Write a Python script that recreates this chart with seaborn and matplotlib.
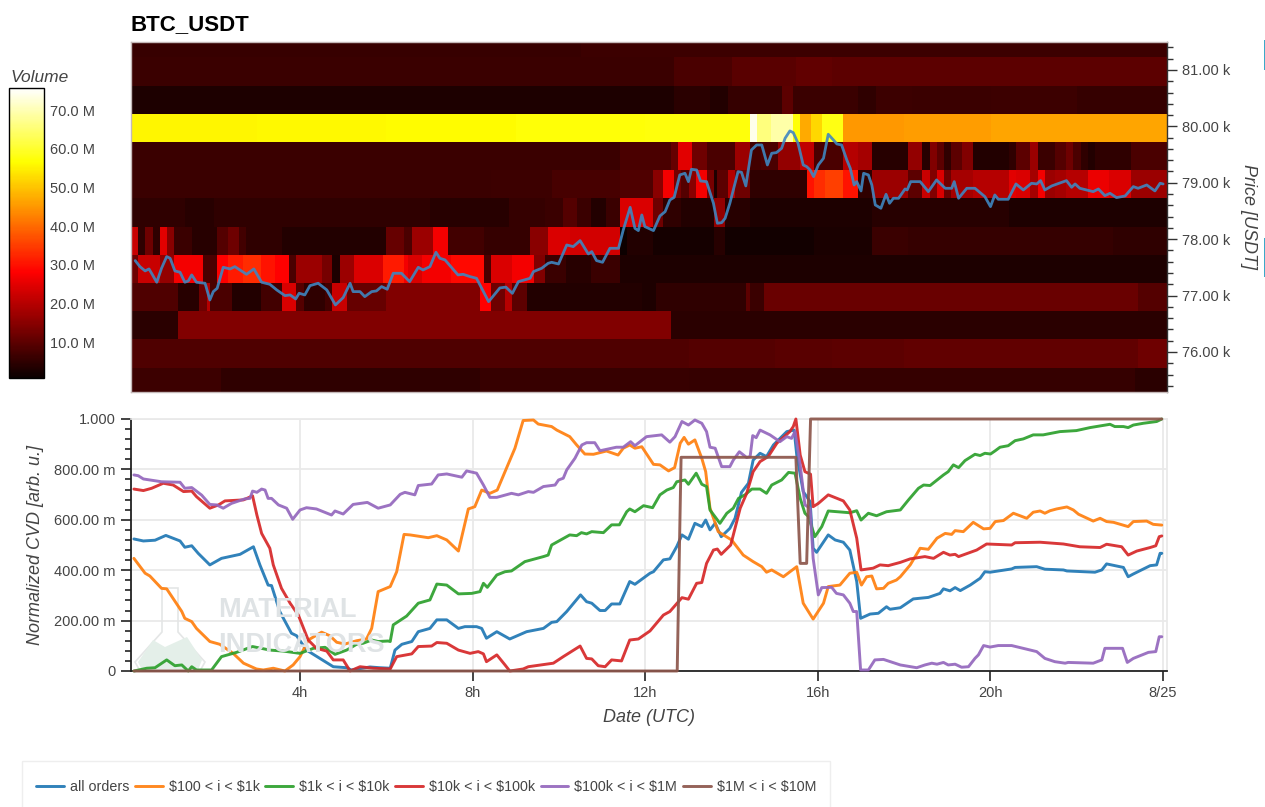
import numpy as np
import matplotlib
matplotlib.use("Agg")
import matplotlib.pyplot as plt
from matplotlib.patches import Rectangle, Polygon
import seaborn as sns

W, H = 1265, 807

# --- cumulative volume delta, hours and normalized value per tier ---
hrs_all = [.15,.37,.64,.89,1.22,1.33,1.49,1.64,1.91,2.18,2.61,2.92,3.07,3.26,3.34,3.53,3.80,3.92,4.15,4.46,4.77,5.08,5.19,5.62,5.85,6.09,6.20,6.36,6.59,6.74,7.01,7.17,7.40,7.67,7.82,8.09,8.21,8.32,8.56,8.86,9.25,9.64,9.83,9.95,10.18,10.50,10.64,10.76,10.95,11.07,11.22,11.41,11.64,11.76,12.11,12.19,12.42,12.57,12.73,12.85,13.0,13.15,13.31,13.40,13.50,13.62,13.76,13.96,14.08,14.23,14.39,14.50,14.66,14.81,14.97,15.28,15.45,15.51,15.66,15.82,15.89,15.97,16.24,16.40,16.59,16.74,16.90,16.99,17.21,17.40,17.59,17.67,17.91,18.21,18.56,18.83,18.91,19.06,19.18,19.30,19.53,19.76,19.87,19.99,20.49,20.57,21.07,21.26,21.69,21.77,22.42,22.58,22.69,23.08,23.19,23.31,23.70,23.85,23.93,23.97]
cvd_all = [.524,.516,.519,.538,.516,.491,.497,.467,.421,.447,.463,.493,.421,.341,.339,.236,.150,.140,.083,.050,.017,.013,.004,.016,.013,.011,.083,.106,.117,.156,.169,.203,.203,.169,.176,.176,.169,.130,.156,.127,.156,.169,.193,.196,.236,.302,.275,.269,.240,.240,.266,.266,.355,.344,.388,.394,.441,.445,.494,.540,.523,.586,.573,.599,.560,.586,.533,.566,.606,.709,.745,.837,.864,.851,.897,.950,.956,.857,.712,.672,.487,.471,.540,.520,.511,.480,.355,.209,.226,.229,.255,.245,.251,.286,.292,.308,.326,.318,.331,.319,.341,.368,.394,.392,.405,.411,.414,.404,.401,.397,.392,.401,.425,.411,.374,.385,.418,.421,.467,.467]

hrs_100 = [.15,.41,.52,.79,.91,1.26,1.33,1.49,1.60,1.91,2.14,2.45,2.69,2.99,3.15,3.38,3.65,3.84,4.0,4.19,4.50,4.69,4.85,5.04,5.31,5.54,5.66,5.81,6.09,6.24,6.41,6.55,6.97,7.17,7.40,7.67,7.90,8.05,8.21,8.40,8.57,8.75,8.98,9.17,9.41,9.52,9.83,9.95,10.25,10.41,10.60,10.80,11.10,11.37,11.49,11.64,11.76,11.92,12.19,12.34,12.54,12.68,12.81,12.90,13.0,13.15,13.31,13.40,13.50,13.69,14.0,14.27,14.50,14.70,14.81,14.93,15.20,15.51,15.66,15.89,16.13,16.24,16.51,16.74,16.90,17.01,17.13,17.25,17.36,17.52,17.63,17.82,17.91,18.14,18.37,18.56,18.76,18.95,19.10,19.18,19.37,19.60,19.84,19.99,20.11,20.30,20.53,20.84,20.99,21.15,21.26,21.38,21.53,21.77,21.92,22.04,22.38,22.54,22.69,22.85,23.19,23.31,23.62,23.77,23.97]
cvd_100 = [.447,.388,.377,.328,.326,.236,.209,.196,.169,.117,.106,.070,.031,.008,.004,.011,.0,.024,.057,.123,.154,.140,.114,.107,.120,.127,.169,.315,.335,.394,.542,.540,.529,.537,.520,.476,.643,.652,.718,.705,.718,.791,.884,.994,.996,.980,.970,.956,.930,.897,.861,.860,.873,.857,.884,.897,.884,.890,.820,.818,.794,.807,.904,.927,.900,.917,.844,.791,.646,.553,.520,.460,.434,.414,.392,.401,.374,.414,.269,.206,.269,.335,.341,.388,.392,.341,.374,.377,.326,.328,.348,.361,.374,.421,.487,.483,.527,.546,.542,.557,.553,.590,.564,.566,.593,.597,.626,.606,.630,.635,.626,.636,.643,.651,.639,.622,.595,.606,.593,.590,.573,.593,.595,.582,.579]

hrs_1k = [.15,.45,.64,.91,1.10,1.26,1.41,1.49,1.60,1.95,2.18,2.53,2.90,3.30,3.61,4.0,4.31,4.58,4.81,5.08,5.31,5.46,5.66,5.81,6.04,6.09,6.16,6.47,6.74,7.01,7.17,7.40,7.67,7.98,8.17,8.25,8.34,8.56,8.75,8.90,9.21,9.64,9.75,9.83,10.25,10.41,10.52,10.64,10.76,11.03,11.22,11.40,11.57,11.64,11.76,11.96,12.17,12.34,12.50,12.65,12.73,12.92,13.0,13.18,13.31,13.42,13.50,13.73,13.89,14.04,14.16,14.31,14.47,14.66,14.81,14.93,15.16,15.32,15.47,15.59,15.70,15.78,15.93,16.09,16.24,16.74,16.90,17.0,17.17,17.36,17.59,17.91,18.10,18.33,18.45,18.60,18.91,19.02,19.14,19.26,19.41,19.64,19.76,19.87,20.0,20.11,20.22,20.41,20.57,20.76,20.99,21.22,21.61,21.99,22.31,22.77,22.88,23.08,23.19,23.31,23.54,23.85,23.97]
cvd_1k = [.0,.011,.013,.044,.021,.024,.0,.017,.004,.004,.057,.074,.097,.083,.079,.070,.090,.094,.066,.083,.106,.110,.123,.117,.119,.117,.183,.218,.269,.282,.345,.341,.306,.308,.315,.348,.332,.381,.394,.397,.434,.454,.460,.500,.540,.537,.549,.544,.553,.549,.580,.580,.632,.643,.632,.656,.648,.699,.718,.728,.751,.758,.741,.785,.741,.732,.639,.586,.626,.646,.685,.699,.722,.722,.705,.738,.758,.788,.785,.685,.626,.613,.533,.573,.635,.628,.636,.599,.626,.616,.632,.639,.679,.725,.738,.736,.778,.791,.818,.807,.835,.860,.855,.864,.861,.874,.888,.894,.914,.921,.937,.937,.950,.954,.966,.979,.970,.970,.966,.976,.983,.990,1.0]

hrs_10k = [.15,.37,.56,.83,1.06,1.30,1.49,1.60,1.91,2.11,2.26,2.69,2.90,3.0,3.11,3.30,3.38,3.57,3.77,3.96,4.19,4.38,4.62,4.77,5.0,5.16,5.39,5.70,6.09,6.24,6.59,6.74,7.05,7.17,7.40,7.67,7.94,8.13,8.25,8.32,8.56,8.75,8.86,9.17,9.29,9.87,10.10,10.49,10.64,10.76,10.91,11.07,11.22,11.45,11.64,11.84,12.11,12.42,12.57,12.85,13.0,13.19,13.31,13.42,13.58,13.67,13.76,13.98,14.20,14.35,14.50,14.66,14.85,15.05,15.35,15.43,15.49,15.59,15.70,15.83,15.89,16.01,16.24,16.59,16.74,16.90,17.0,17.28,17.44,17.63,17.91,18.14,18.48,18.68,18.91,19.06,19.18,19.26,19.68,19.91,20.49,20.57,21.15,21.69,22.07,22.54,22.69,23.04,23.19,23.39,23.70,23.83,23.91,23.97]
cvd_10k = [.722,.716,.725,.745,.738,.712,.714,.692,.646,.659,.675,.679,.695,.619,.546,.487,.421,.328,.269,.222,.123,.090,.079,.044,.044,.0,.017,.011,.008,.057,.068,.097,.099,.113,.110,.083,.070,.077,.068,.037,.064,.024,.0,.008,.017,.031,.057,.099,.050,.048,.021,.017,.044,.040,.123,.127,.159,.222,.236,.291,.285,.348,.351,.427,.480,.484,.463,.500,.646,.705,.791,.831,.851,.904,.950,.970,1.0,.857,.791,.781,.652,.665,.699,.675,.639,.527,.401,.408,.421,.418,.431,.445,.454,.447,.471,.460,.463,.454,.480,.504,.500,.509,.511,.504,.493,.490,.503,.493,.460,.476,.490,.497,.533,.536]

hrs_100k = [.15,.25,.37,.79,1.22,1.33,1.49,1.72,1.91,2.07,2.22,2.41,2.72,2.84,2.90,3.0,3.11,3.19,3.26,3.34,3.50,3.69,3.83,4.0,4.15,4.38,4.73,4.81,5.0,5.23,5.56,5.81,6.09,6.32,6.43,6.66,6.74,7.05,7.20,7.40,7.75,7.86,8.09,8.25,8.40,8.56,8.90,9.06,9.29,9.41,9.64,9.91,9.99,10.10,10.18,10.37,10.53,10.64,10.83,10.95,11.33,11.49,11.66,11.76,11.88,12.03,12.38,12.57,12.69,12.85,13.0,13.15,13.31,13.42,13.50,13.62,13.77,13.96,14.04,14.18,14.35,14.43,14.49,14.57,14.66,14.89,15.12,15.28,15.39,15.47,15.59,15.70,15.82,15.89,16.01,16.09,16.32,16.43,16.59,16.74,16.82,16.90,16.99,17.17,17.32,17.52,17.91,18.29,18.48,18.64,18.76,18.91,19.02,19.18,19.33,19.49,19.64,19.72,19.84,19.99,20.18,20.49,20.76,21.07,21.26,21.49,21.73,21.80,22.38,22.58,22.65,23.06,23.17,23.31,23.66,23.83,23.91,23.97]
cvd_100k = [.778,.775,.762,.751,.749,.725,.728,.698,.661,.659,.646,.665,.683,.685,.714,.709,.722,.718,.685,.685,.659,.646,.602,.639,.648,.643,.619,.635,.623,.661,.669,.646,.659,.701,.709,.699,.736,.742,.778,.782,.769,.794,.785,.738,.689,.689,.705,.699,.712,.709,.732,.738,.758,.765,.798,.844,.897,.906,.906,.874,.888,.888,.910,.894,.910,.930,.937,.908,.930,.990,.976,.996,.983,.950,.888,.884,.811,.811,.837,.870,.847,.851,.934,.926,.956,.937,.910,.930,.923,.950,.818,.659,.646,.447,.302,.331,.332,.308,.302,.269,.236,.236,.004,.004,.044,.046,.024,.013,.024,.031,.027,.034,.024,.027,.015,.017,.050,.064,.101,.095,.101,.101,.090,.077,.050,.037,.031,.034,.031,.044,.090,.090,.034,.050,.074,.077,.136,.136]

hrs_1m = [.15,12.74,12.83,15.49,15.59,15.74,15.83,23.97]
cvd_1m = [.0,.0,.848,.848,.427,.427,1.0,1.0]

tier_labels = ["all orders", r"\$100 < i < \$1k", r"\$1k < i < \$10k", r"\$10k < i < \$100k",
               r"\$100k < i < \$1M", r"\$1M < i < \$10M"]

# --- mid price ---
hrs_price = [.18,.29,.41,.50,.56,.68,.79,.91,.99,1.10,1.22,1.33,1.41,1.49,1.60,1.80,1.91,1.99,2.08,2.22,2.38,2.49,2.76,2.93,3.11,3.30,3.46,3.65,3.77,3.90,3.98,4.11,4.23,4.42,4.62,4.82,5.0,5.16,5.23,5.39,5.50,5.66,5.77,5.89,6.02,6.16,6.35,6.54,6.74,6.85,7.01,7.15,7.24,7.36,7.66,7.78,7.94,8.09,8.37,8.63,8.77,8.92,9.06,9.33,9.41,9.60,9.75,9.83,9.99,10.18,10.33,10.49,10.68,10.76,10.87,11.01,11.18,11.38,11.49,11.65,11.76,11.84,11.92,11.99,12.19,12.34,12.46,12.57,12.67,12.80,12.92,13.0,13.07,13.19,13.28,13.42,13.58,13.67,13.77,13.85,13.96,14.15,14.23,14.33,14.46,14.58,14.70,14.83,14.93,15.04,15.16,15.24,15.35,15.43,15.54,15.66,15.74,15.82,15.90,16.01,16.13,16.24,16.36,16.44,16.55,16.67,16.75,16.84,16.90,17.0,17.06,17.17,17.25,17.33,17.46,17.58,17.66,17.75,17.87,18.02,18.07,18.15,18.37,18.56,18.75,18.95,19.10,19.16,19.26,19.45,19.64,19.87,20.0,20.10,20.18,20.41,20.59,20.76,20.95,21.07,21.16,21.26,21.42,21.76,21.88,21.96,22.07,22.38,22.50,22.65,22.77,22.92,23.12,23.31,23.42,23.62,23.81,23.93,24.0]
price_usdt = [77620,77513,77437,77472,77395,77236,77484,77691,77661,77437,77413,77236,77259,77366,77236,77218,76922,77070,77129,77501,77472,77513,77377,77472,77236,77200,77100,76999,77011,76940,77041,77011,77176,77218,77100,76834,76964,77218,77070,77070,76981,77070,77082,77159,77112,77395,77395,77247,77501,77454,77513,77767,77661,77632,77366,77377,77336,77306,76892,77135,77150,77040,77247,77306,77425,77484,77572,77590,77560,77897,77868,77974,77738,77779,77620,77590,77838,77838,78163,78565,78193,78152,78429,78223,78152,78412,78488,78695,78742,79139,79168,79020,79239,79227,79032,79020,78636,78282,78293,78370,78636,79198,79186,78944,79582,79670,79670,79316,79523,79535,79611,79789,79919,79889,79700,79316,79286,79227,79109,79316,79434,79860,79759,79688,79670,79405,79257,78961,79020,78855,79168,79139,78961,78607,78548,78796,78636,78725,78725,78890,78873,79020,79020,78843,79050,78902,78902,79020,78725,78902,78902,78754,78577,78784,78707,78707,78979,78873,78991,78979,79038,78873,78944,79038,78920,78979,78902,78843,78890,78772,78813,78737,78766,78932,78902,78961,78855,78991,78979]

# --- volume per price level: segment end hours and volume (M) of each segment ---
ends_81500 = [10.5, 24.1]
vol_81500 = [5.7, 6.3]
ends_81000 = [12.7, 14, 15.5, 16.3, 24.1]
vol_81000 = [6, 8, 9.5, 10.5, 10]
ends_80500 = [12.7, 13.5, 13.9, 15.2, 15.4, 16.9, 17.3, 18.2, 20, 22, 24.1]
vol_80500 = [3, 4.5, 3.5, 5.5, 10, 6, 5, 6.5, 6, 6.5, 5.5]
ends_80000 = [3, 6, 9, 12, 14.42, 14.6, 14.9, 15.4, 15.6, 15.87, 16.08, 16.57, 18, 20, 24.1]
vol_80000 = [55.5, 55.8, 56.2, 57, 57.5, 74, 66, 69, 57, 47, 52, 58, 45, 45.8, 46.5]
ends_79500 = [11.4, 12.57, 12.74, 13.07, 13.44, 14.06, 14.4, 14.68, 15.1, 15.55, 15.91, 16.59, 16.9, 17.25, 18.1, 18.41, 18.56, 18.75, 18.91, 19.06, 19.37, 19.56, 20.41, 20.57, 20.92, 21.07, 21.46, 21.76, 21.92, 22.11, 22.27, 22.42, 23.23, 24.1]
vol_79500 = [6, 8, 11, 25, 12, 8, 17, 7, 8, 16, 21, 8, 20, 18, 4, 16, 4, 14, 10, 5, 10, 14, 3.5, 5, 10, 17, 6, 9, 12, 8, 5, 3.5, 5, 8]
ends_79000 = [8.4, 9.8, 11.4, 12.2, 12.4, 12.7, 12.85, 13, 13.2, 13.4, 13.55, 13.7, 13.9, 14.1, 14.4, 15.75, 15.9, 16.13, 16.6, 16.94, 17.25, 18.1, 18.41, 18.56, 18.75, 18.91, 19.06, 19.6, 20.45, 20.6, 20.9, 21.07, 21.22, 21.46, 21.76, 22.27, 22.77, 23.23, 24.1]
vol_79000 = [6, 6.5, 7.5, 8.5, 15, 27, 13, 9, 15, 27, 13, 3, 10, 20, 12, 5, 30, 33, 35, 30, 5, 17, 10, 22, 14, 24, 12, 18, 20, 25, 24, 18, 27, 17, 18, 20, 26, 24, 17]
ends_78500 = [1.3, 2.0, 7.0, 8.8, 9.7, 10.1, 10.4, 10.76, 11.07, 11.4, 12.2, 12.4, 12.8, 13.55, 13.85, 14.4, 17.28, 20.4, 21.3, 24.1]
vol_78500 = [5, 4, 5, 4, 5.5, 6, 9, 6, 3.5, 6, 24, 12, 5, 3.5, 16, 4, 2.8, 4, 2.8, 3]
ends_78000 = [.25, .4, .57, .74, .93, 1.1, 1.5, 2.06, 2.3, 2.58, 2.77, 3.58, 6.04, 6.4, 6.6, 7.08, 7.4, 8.26, 9.35, 9.75, 10.26, 11.4, 11.6, 12.2, 13.55, 13.85, 15.9, 17.25, 18.1, 22.8, 24.1]
vol_78000 = [22, 5, 12, 5, 25, 15, 6, 4, 9, 12, 7, 5, 3.5, 11, 8, 17, 27, 7, 5.5, 15, 24, 23, 1, 3.5, 2, 4, 1.7, 2.5, 6, 5.5, 5]
ends_77500 = [.25, .74, 1.07, 1.73, 2.06, 2.3, 2.63, 3.1, 3.4, 3.72, 3.9, 4.5, 4.73, 4.9, 5.23, 5.9, 6.4, 6.5, 6.86, 7.46, 8.26, 8.4, 8.92, 9.4, 9.67, 10.18, 10.76, 11.4, 12.2, 24.1]
vol_77500 = [12, 22, 16, 27, 8, 28, 31, 33, 30, 28, 8, 17, 13, 3, 17, 24, 31, 27, 24, 27, 29, 8, 24, 27, 14, 6, 4, 6, 3, 3]
ends_77000 = [1.2, 1.69, 1.83, 1.92, 2.4, 3.1, 3.58, 3.9, 4.1, 4.6, 4.76, 5.09, 6.04, 8.2, 8.4, 8.73, 8.92, 9.25, 11.88, 12.26, 14.3, 14.42, 14.75, 23.4, 24.1]
vol_77000 = [8.5, 4, 12, 20, 8, 3.5, 7, 24, 9, 5, 7, 22, 11, 14, 28, 12, 20, 10, 3.5, 3, 5, 10, 6, 11.5, 9]
ends_76500 = [1.2, 12.6, 24.1]
vol_76500 = [4.5, 14, 4.5]
ends_76000 = [13, 15, 16.35, 18, 23.4, 24.1]
vol_76000 = [8.5, 9, 9.5, 10, 10.5, 12]
ends_75500 = [2.16, 8.2, 13, 23.3, 24.1]
vol_75500 = [6.5, 5, 5.7, 5.4, 4.5]

level_ends = [ends_81500, ends_81000, ends_80500, ends_80000, ends_79500, ends_79000, ends_78500,
              ends_78000, ends_77500, ends_77000, ends_76500, ends_76000, ends_75500]
level_vols = [vol_81500, vol_81000, vol_80500, vol_80000, vol_79500, vol_79000, vol_78500,
              vol_78000, vol_77500, vol_77000, vol_76500, vol_76000, vol_75500]

hour_min, hour_max = 0.083, 24.09
price_min, price_max = 75290, 81496
col_hours = hour_min + (np.arange(288) + 0.5) / 12
vol_grid = np.array([np.array(v)[np.searchsorted(e, col_hours).clip(0, len(v) - 1)]
                     for e, v in zip(level_ends, level_vols)])


def rect(left, top, right, bottom):
    return [left / W, 1 - bottom / H, (right - left) / W, (bottom - top) / H]


sns.set_theme(style="white")
plt.rcParams["font.family"] = ["Liberation Sans", "DejaVu Sans"]
text_col = "#444444"
fig = plt.figure(figsize=(W / 100, H / 100), dpi=100)

ax_hm = fig.add_axes(rect(131, 42, 1167, 392))
cax = fig.add_axes(rect(9, 88, 44, 378))
ax_px = fig.add_axes(rect(131, 42, 1167, 392), facecolor="none")
ax_cvd = fig.add_axes(rect(131, 419, 1167, 671))

# heatmap
sns.heatmap(vol_grid, ax=ax_hm, cbar_ax=cax, cmap="hot", vmin=0.7, vmax=75.7,
            xticklabels=False, yticklabels=False)
# bands sit about 1.5 px under the price ticks in the picture
ax_hm.set_ylim((81500 - price_min) / 500 + 0.5 - 0.053, (81500 - price_max) / 500 + 0.5 - 0.053)
cbar = ax_hm.collections[0].colorbar
cbar.set_ticks([10, 20, 30, 40, 50, 60, 70])
cbar.set_ticklabels(["10.0 M", "20.0 M", "30.0 M", "40.0 M", "50.0 M", "60.0 M", "70.0 M"])
cbar.ax.tick_params(direction="in", length=8, width=1, color="black", labelsize=10.5,
                    labelcolor=text_col, pad=4, right=True)
cbar.outline.set_visible(True)
cbar.outline.set_linewidth(1)
cbar.outline.set_edgecolor("black")

# price line
sns.lineplot(x=hrs_price, y=price_usdt, ax=ax_px, color="#3f86c0", lw=2.0, alpha=0.9,
             estimator=None, sort=False)
ax_px.set_xlim(hour_min, hour_max)
ax_px.set_ylim(price_min, price_max)
ax_px.set_xticks([])
ax_px.yaxis.tick_right()
ax_px.set_yticks([76000, 77000, 78000, 79000, 80000, 81000])
ax_px.set_yticklabels(["76.00 k", "77.00 k", "78.00 k", "79.00 k", "80.00 k", "81.00 k"])
ax_px.set_yticks(np.arange(75400, 81500, 200), minor=True)
ax_px.tick_params(axis="y", which="major", direction="out", length=7, width=1, color="#333333",
                  labelsize=10.5, labelcolor=text_col, right=True, pad=4)
ax_px.tick_params(axis="y", which="minor", direction="out", length=4, width=1, color="#333333", right=True)
for side in ["top", "left", "bottom"]:
    ax_px.spines[side].set_color("#c4b8b8")
    ax_px.spines[side].set_linewidth(1)
ax_px.spines["right"].set_color("#333333")
ax_px.spines["right"].set_linewidth(1)
fig.text(1248 / W, 1 - 217 / H, "Price [USDT]", rotation=270, ha="center", va="center",
         fontsize=13, style="italic", color=text_col)

# cvd panel
ax_cvd.grid(True, color="#e9e9e9", lw=1.3, zorder=0)
ax_cvd.set_axisbelow(True)
tier_series = [(hrs_all, cvd_all), (hrs_100, cvd_100), (hrs_1k, cvd_1k), (hrs_10k, cvd_10k),
               (hrs_100k, cvd_100k), (hrs_1m, cvd_1m)]
palette = sns.color_palette("tab10", 6)
for (hrs, cvd), col, lab in zip(tier_series, palette, tier_labels):
    sns.lineplot(x=hrs, y=cvd, ax=ax_cvd, color=col, lw=2.1, alpha=0.92, label=lab,
                 estimator=None, sort=False, zorder=3, clip_on=False)
handles, labels = ax_cvd.get_legend_handles_labels()
ax_cvd.get_legend().remove()
ax_cvd.set_xlim(hour_min, hour_max)
ax_cvd.set_ylim(0, 1)
ax_cvd.set_xticks([4, 8, 12, 16, 20, 24])
ax_cvd.set_xticklabels(["4h", "8h", "12h", "16h", "20h", "8/25"])
ax_cvd.set_yticks([0, .2, .4, .6, .8, 1.0])
ax_cvd.set_yticklabels(["0", "200.00 m", "400.00 m", "600.00 m", "800.00 m", "1.000"])
ax_cvd.set_yticks(np.arange(0, 1.001, .04), minor=True)
ax_cvd.tick_params(axis="both", which="major", direction="out", length=7, width=1.2, color="#222222",
                   labelsize=10.5, labelcolor=text_col, left=True, bottom=True, pad=4)
ax_cvd.tick_params(axis="y", which="minor", direction="out", length=4, width=1.2, color="#222222", left=True)
ax_cvd.set_xlabel("Date (UTC)", fontsize=13, style="italic", color=text_col, labelpad=6)
ax_cvd.set_ylabel("Normalized CVD [arb. u.]", fontsize=13, style="italic", color=text_col, labelpad=7)
for side in ["left", "bottom"]:
    ax_cvd.spines[side].set_color("#222222")
    ax_cvd.spines[side].set_linewidth(1.3)
for side in ["top", "right"]:
    ax_cvd.spines[side].set_color("#e9e9e9")

# watermark
fig.text(218 / W, 1 - 610 / H, "MATERIAL", fontsize=19.5, weight="bold", color="#dfe3e5",
         ha="left", va="center", zorder=0.5)
fig.text(218 / W, 1 - 645 / H, "INDICATORS", fontsize=19.5, weight="bold", color="#dfe3e5",
         ha="left", va="center", zorder=0.5)
flask_px = [(162, 588), (178, 588), (178, 632), (205, 662), (200, 671), (140, 671), (135, 662), (162, 632)]
mound_px = [(138, 662), (153, 640), (165, 647), (187, 637), (202, 660), (198, 670), (142, 670)]
to_fig = lambda pts: [(x / W, 1 - y / H) for x, y in pts]
ax_cvd.add_patch(Polygon(to_fig(flask_px), closed=True, fill=False, ec="#e4e6e6", lw=1.2,
                         transform=fig.transFigure, zorder=1))
ax_cvd.add_patch(Polygon(to_fig(mound_px), closed=True, fc="#e4efe9", ec="none",
                         transform=fig.transFigure, zorder=1))

# legend box + legend
fig.add_artist(Rectangle((22 / W, 1 - 812 / H), 808 / W, 51 / H, transform=fig.transFigure,
                         fc="white", ec="#eeeeee", lw=1))
fig.legend(handles, labels, loc="center left", bbox_to_anchor=(32 / W, 1 - 787 / H), ncol=6, frameon=False,
           fontsize=10.3, labelcolor=text_col, handlelength=1.95, handletextpad=0.42,
           columnspacing=0.38, borderaxespad=0, borderpad=0.3)

# titles
fig.text(131 / W, 1 - 25 / H, "BTC_USDT", fontsize=16, weight="bold", color="black", ha="left", va="center")
fig.text(10 / W, 1 - 77 / H, "Volume", fontsize=12.5, style="italic", color=text_col, ha="left", va="center")

# teal marks on the right edge of the screenshot
fig.add_artist(Rectangle((1263.5 / W, 1 - 70 / H), 1.5 / W, 30 / H, transform=fig.transFigure, fc="#3ba9c9", ec="none"))
fig.add_artist(Rectangle((1263.5 / W, 1 - 277 / H), 1.5 / W, 39 / H, transform=fig.transFigure, fc="#3ba9c9", ec="none"))

fig.savefig("out.png", dpi=100)
